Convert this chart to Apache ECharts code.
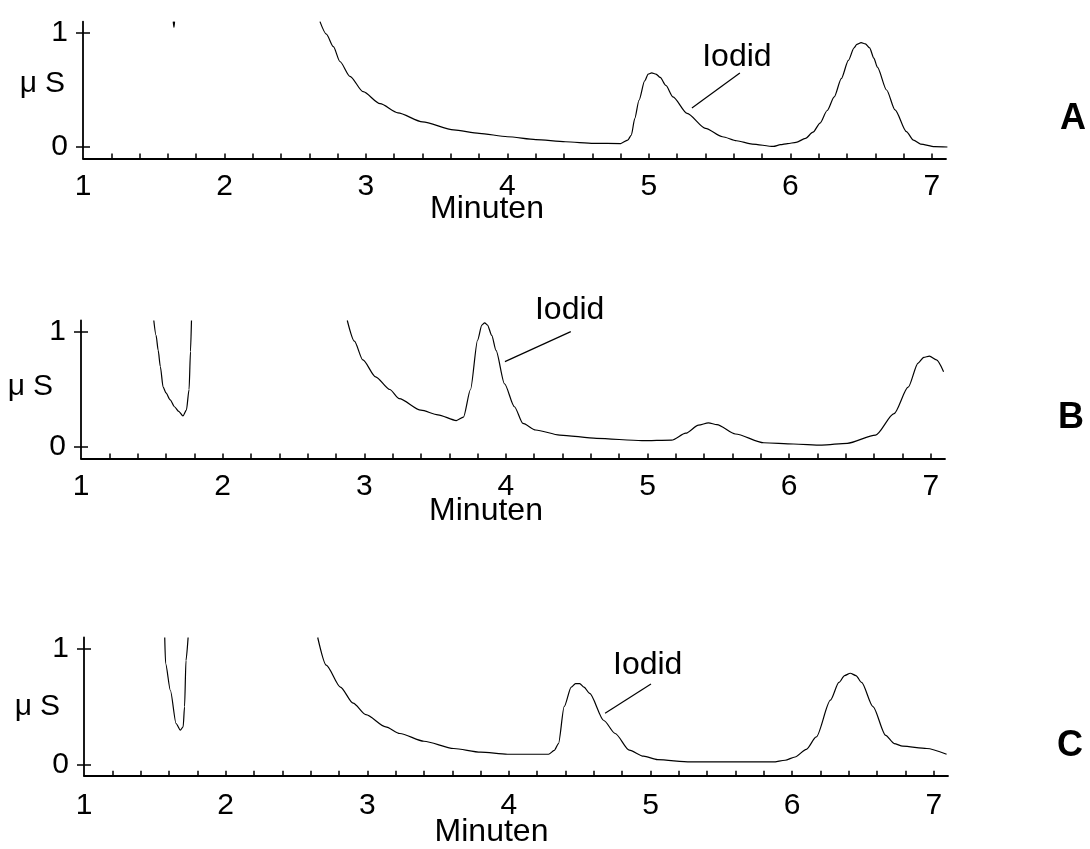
<!DOCTYPE html>
<html>
<head>
<meta charset="utf-8">
<script src="https://cdn.jsdelivr.net/npm/echarts@6/dist/echarts.min.js"></script>
<style>
html, body { margin: 0; padding: 0; background: #fff; }
#chart { width: 1090px; height: 849px; }
</style>
</head>
<body>
<div id="chart"></div>
<script>
const FONT = '"Liberation Sans", Arial, sans-serif';

const dipA = [[1.638, 1.10], [1.643, 1.05], [1.647, 1.10]];
const curveA = [
    [2.675, 1.10], [2.72, 0.99], [2.77, 0.88], [2.816, 0.75], [2.887, 0.62], [2.98, 0.485],
    [3.10, 0.38], [3.226, 0.30], [3.40, 0.22], [3.62, 0.15], [3.80, 0.12], [4.0, 0.09],
    [4.20, 0.065], [4.41, 0.046], [4.61, 0.032], [4.80, 0.03], [4.85, 0.06], [4.876, 0.105],
    [4.90, 0.25], [4.93, 0.41], [4.97, 0.58], [4.995, 0.64], [5.02, 0.65], [5.05, 0.64],
    [5.08, 0.61], [5.12, 0.54], [5.17, 0.44], [5.27, 0.295], [5.40, 0.164], [5.52, 0.09],
    [5.62, 0.055], [5.73, 0.026], [5.88, 0.005], [5.93, 0.02], [5.98, 0.03], [6.04, 0.04],
    [6.107, 0.076], [6.16, 0.13], [6.21, 0.21], [6.26, 0.32], [6.31, 0.44], [6.36, 0.60],
    [6.41, 0.76], [6.45, 0.87], [6.47, 0.90], [6.50, 0.915], [6.53, 0.905], [6.56, 0.87],
    [6.59, 0.78], [6.615, 0.70], [6.68, 0.50], [6.74, 0.325], [6.82, 0.134], [6.87, 0.06],
    [6.92, 0.026], [7.02, 0.003], [7.11, 0.0]
];
const dipB = [
    [1.514, 1.10], [1.53, 0.97], [1.545, 0.84], [1.56, 0.70], [1.58, 0.52], [1.60, 0.47],
    [1.63, 0.41], [1.66, 0.35], [1.69, 0.31], [1.72, 0.27], [1.744, 0.32], [1.763, 0.50],
    [1.773, 0.83], [1.78, 1.10]
];
const curveB = [
    [2.88, 1.10], [2.93, 0.92], [2.99, 0.757], [3.08, 0.61], [3.18, 0.50], [3.247, 0.42],
    [3.40, 0.32], [3.52, 0.28], [3.65, 0.23], [3.70, 0.26], [3.75, 0.50], [3.80, 0.93],
    [3.83, 1.06], [3.85, 1.08], [3.87, 1.06], [3.90, 0.97], [3.93, 0.84], [3.99, 0.55],
    [4.06, 0.35], [4.12, 0.205], [4.21, 0.148], [4.38, 0.104], [4.64, 0.075], [4.96, 0.055],
    [5.17, 0.06], [5.27, 0.12], [5.36, 0.19], [5.43, 0.21], [5.49, 0.195], [5.62, 0.113],
    [5.82, 0.037], [6.03, 0.026], [6.23, 0.017], [6.41, 0.032], [6.61, 0.104], [6.74, 0.29],
    [6.84, 0.52], [6.91, 0.73], [6.95, 0.78], [6.99, 0.79], [7.04, 0.757], [7.09, 0.655]
];
const dipC = [
    [1.57, 1.10], [1.576, 0.875], [1.61, 0.64], [1.65, 0.354], [1.68, 0.296], [1.70, 0.325],
    [1.71, 0.50], [1.72, 0.90], [1.735, 1.10]
];
const curveC = [
    [2.65, 1.10], [2.71, 0.86], [2.81, 0.67], [2.90, 0.53], [2.99, 0.43], [3.13, 0.325],
    [3.23, 0.267], [3.40, 0.20], [3.61, 0.137], [3.80, 0.105], [3.99, 0.087], [4.28, 0.087],
    [4.32, 0.12], [4.35, 0.18], [4.39, 0.50], [4.44, 0.67], [4.47, 0.70], [4.50, 0.70],
    [4.53, 0.67], [4.57, 0.615], [4.67, 0.38], [4.75, 0.267], [4.85, 0.122], [4.95, 0.07],
    [5.05, 0.04], [5.28, 0.02], [5.865, 0.02], [5.95, 0.035], [6.02, 0.063], [6.10, 0.13],
    [6.17, 0.237], [6.27, 0.556], [6.33, 0.71], [6.37, 0.77], [6.41, 0.79], [6.45, 0.77],
    [6.49, 0.71], [6.57, 0.50], [6.66, 0.25], [6.72, 0.18], [6.78, 0.157], [6.95, 0.137],
    [7.09, 0.087]
];

const xTickLabels = [1, 2, 3, 4, 5, 6, 7];
const xMinorTicks = [1.2, 1.4, 1.6, 1.8, 2, 2.2, 2.4, 2.6, 2.8, 3, 3.2, 3.4, 3.6, 3.8, 4,
    4.2, 4.4, 4.6, 4.8, 5, 5.2, 5.4, 5.6, 5.8, 6, 6.2, 6.4, 6.6, 6.8, 7];
const yTickLabels = [0, 1];
const panelLetters = ['A', 'B', 'C'];

// Beschriftung "Iodid": Textmitte und Hinweislinie in Datenkoordinaten
const iodidText = [[5.622, 0.789], [4.45, 1.19], [4.98, 0.857]];
const iodidLine = [
    [[5.643, 0.649], [5.304, 0.342]],
    [[4.458, 1.003], [3.993, 0.742]],
    [[5.003, 0.696], [4.679, 0.442]]
];

const panels = [
    {grid: {left: 83, top: 21.6, width: 863, height: 136.8}, curves: [dipA, curveA],
        yNameGap: 18, yNamePad: 12, xNameGap: 35, xNameShift: 55, labelMargin: 13, letter: [1073, 119]},
    {grid: {left: 81, top: 320.5, width: 864, height: 138}, curves: [dipB, curveB],
        yNameGap: 28, yNamePad: 5, xNameGap: 37, xNameShift: 54, labelMargin: 13, letter: [1071, 418]},
    {grid: {left: 84, top: 637.5, width: 864, height: 138.3}, curves: [dipC, curveC],
        yNameGap: 24, yNamePad: 0, xNameGap: 40, xNameShift: 49, labelMargin: 15, letter: [1070, 746]}
];

const chart = echarts.init(document.getElementById('chart'));

const grids = [], xAxes = [], yAxes = [], series = [];
panels.forEach((p, i) => {
    grids.push(Object.assign({outerBoundsMode: 'none', containLabel: false}, p.grid));
    xAxes.push({
        type: 'value', gridIndex: i, min: 1, max: 7.1,
        name: 'Minuten', nameLocation: 'middle', nameGap: p.xNameGap, nameMoveOverlap: false,
        nameTextStyle: {fontFamily: FONT, fontSize: 32, color: '#000', align: 'center',
            verticalAlign: 'top', padding: [0, p.xNameShift, 0, 0]},
        axisLine: {show: true, onZero: false, lineStyle: {color: '#000', width: 1.8}},
        axisTick: {show: true, inside: true, length: 5, customValues: xMinorTicks,
            lineStyle: {color: '#000', width: 1.5}},
        axisLabel: {show: true, customValues: xTickLabels, margin: p.labelMargin,
            fontFamily: FONT, fontSize: 30, color: '#000'},
        splitLine: {show: false}
    });
    const yBase = {
        type: 'value', gridIndex: i, min: -0.1, max: 1.1, position: 'left',
        splitLine: {show: false}
    };
    yAxes.push(Object.assign({}, yBase, {
        name: '{mu|μ}S', nameLocation: 'middle', nameRotate: 0, nameGap: p.yNameGap, nameMoveOverlap: false,
        nameTextStyle: {fontFamily: FONT, fontSize: 30, color: '#000', align: 'right',
            verticalAlign: 'middle', padding: [0, 0, p.yNamePad, 0],
            rich: {mu: {fontFamily: FONT, fontSize: 30, color: '#000', padding: [0, 8, 0, 0]}}},
        axisLine: {show: true, onZero: false, lineStyle: {color: '#000', width: 1.8}},
        axisTick: {show: true, inside: false, length: 7, customValues: yTickLabels,
            lineStyle: {color: '#000', width: 1.5}},
        axisLabel: {show: true, customValues: yTickLabels, margin: 15,
            fontFamily: FONT, fontSize: 30, color: '#000'}
    }));
    // zweite Achse nur für die nach innen zeigenden Teilstriche
    yAxes.push(Object.assign({}, yBase, {
        axisLine: {show: false, onZero: false},
        axisTick: {show: true, inside: true, length: 7, customValues: yTickLabels,
            lineStyle: {color: '#000', width: 1.5}},
        axisLabel: {show: false}
    }));
    p.curves.forEach(c => {
        series.push({
            type: 'line', xAxisIndex: i, yAxisIndex: 2 * i, data: c,
            symbol: 'none', smooth: 0.25, smoothMonotone: 'x', clip: true, silent: true,
            lineStyle: {color: '#000', width: 1.2}
        });
    });
});

chart.setOption({
    animation: false,
    backgroundColor: '#fff',
    grid: grids,
    xAxis: xAxes,
    yAxis: yAxes,
    series: series
});

// Beschriftungen über die Achsen in Pixel umrechnen
const graphics = [];
panels.forEach((p, i) => {
    const finder = {xAxisIndex: i, yAxisIndex: 2 * i};
    const t = chart.convertToPixel(finder, iodidText[i]);
    const a = chart.convertToPixel(finder, iodidLine[i][0]);
    const b = chart.convertToPixel(finder, iodidLine[i][1]);
    graphics.push({
        type: 'text', silent: true,
        style: {text: 'Iodid', x: t[0], y: t[1], font: '32px ' + FONT, fill: '#000',
            align: 'center', verticalAlign: 'middle', textAlign: 'center', textVerticalAlign: 'middle'}
    });
    graphics.push({
        type: 'line', silent: true,
        shape: {x1: a[0], y1: a[1], x2: b[0], y2: b[1]},
        style: {stroke: '#000', lineWidth: 1.2}
    });
    graphics.push({
        type: 'text', silent: true,
        style: {text: panelLetters[i], x: p.letter[0], y: p.letter[1], font: 'bold 36px ' + FONT, fill: '#000',
            align: 'center', verticalAlign: 'middle', textAlign: 'center', textVerticalAlign: 'middle'}
    });
});
chart.setOption({graphic: graphics});
</script>
</body>
</html>
